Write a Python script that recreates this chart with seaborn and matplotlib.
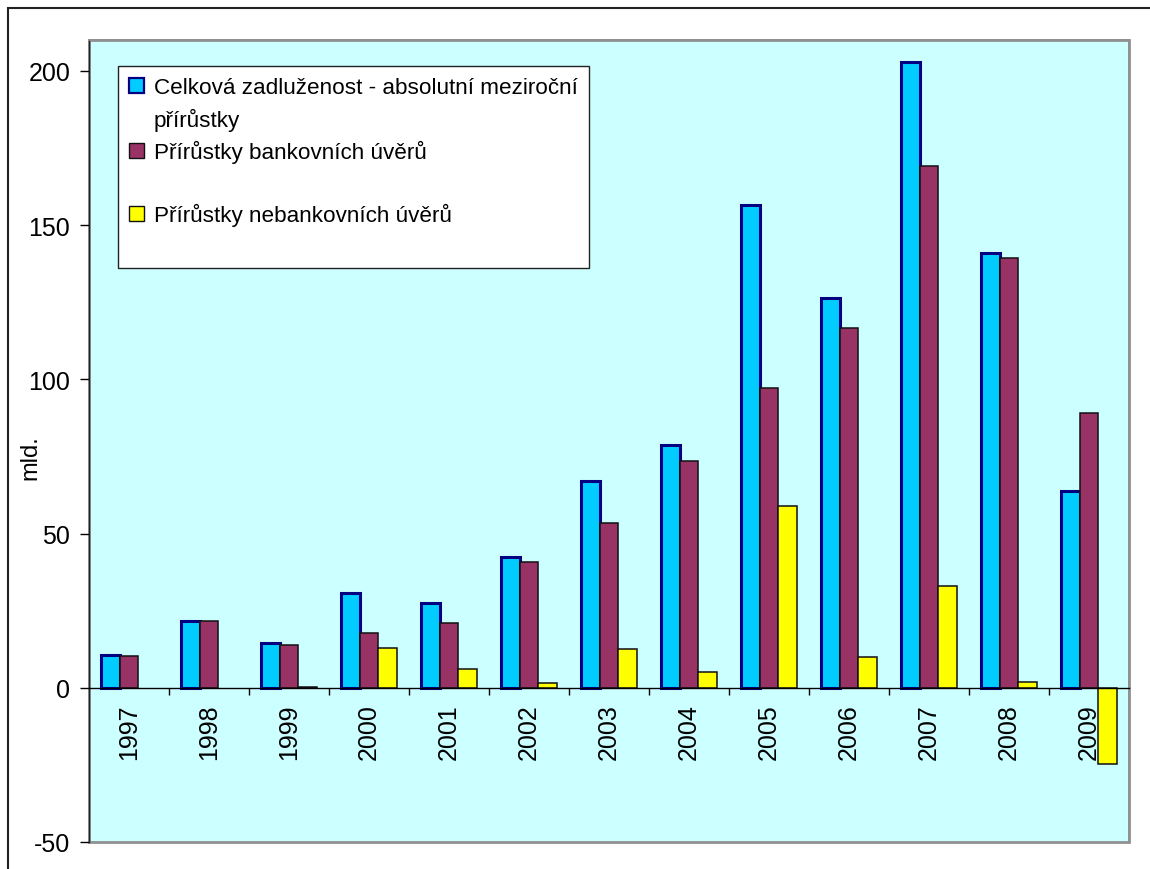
import numpy as np
import pandas as pd
import matplotlib
matplotlib.use("Agg")
import matplotlib.pyplot as plt
from matplotlib.patches import Patch, Rectangle
import seaborn as sns

# Year-on-year increments (bn CZK)
years = ["1997", "1998", "1999", "2000", "2001", "2002", "2003",
         "2004", "2005", "2006", "2007", "2008", "2009"]
total_debt = [10.5, 21.6, 14.6, 30.6, 27.4, 42.5, 67.0, 78.6, 156.6, 126.2, 202.9, 141.1, 63.8]
bank_loans = [10.4, 21.5, 14.0, 17.7, 20.9, 40.9, 53.4, 73.5, 97.1, 116.5, 169.3, 139.2, 89.0]
nonbank_loans = [0.0, 0.0, 0.4, 13.0, 6.1, 1.5, 12.5, 5.1, 58.9, 9.9, 32.9, 1.9, -24.8]

series_names = ["Celková zadluženost - absolutní meziroční\npřírůstky",
                "Přírůstky bankovních úvěrů",
                "Přírůstky nebankovních úvěrů"]
y_ticks = [-50, 0, 50, 100, 150, 200]

face_colors = ["#00CCFF", "#993366", "#FFFF00"]
edge_colors = ["#000080", "#111111", "#111111"]
edge_widths = [2.2, 1.1, 1.1]

df = pd.DataFrame({
    "rok": years * 3,
    "hodnota": total_debt + bank_loans + nonbank_loans,
    "řada": [series_names[0]] * len(years) + [series_names[1]] * len(years)
            + [series_names[2]] * len(years),
})

sns.set_theme(style="white")
plt.rcParams["font.family"] = ["Liberation Sans", "DejaVu Sans"]
plt.rcParams["text.color"] = "black"
plt.rcParams["axes.labelcolor"] = "black"
plt.rcParams["xtick.color"] = "black"
plt.rcParams["ytick.color"] = "black"

fig = plt.figure(figsize=(11.5, 8.7), dpi=100)
ax = fig.add_axes([89 / 1150, 1 - 843 / 870, 1040 / 1150, 802 / 870])
ax.set_facecolor("#CCFFFF")

sns.barplot(data=df, x="rok", y="hodnota", hue="řada", order=years,
            hue_order=series_names, palette=face_colors, saturation=1,
            width=0.71, legend=False, ax=ax)

for cont, ec, lw in zip(ax.containers, edge_colors, edge_widths):
    for bar in cont:
        bar.set_edgecolor(ec)
        bar.set_linewidth(lw if bar.get_height() != 0 else 0)
        bar.set_joinstyle("miter")

ax.set_xlim(-0.5, len(years) - 0.5)
ax.set_ylim(-50, 210)
ax.set_yticks(y_ticks)
ax.set_yticklabels([str(v) for v in y_ticks], fontsize=18)

# Category axis sits on the zero line, ticks between the categories
ax.spines["bottom"].set_position(("data", 0))
ax.spines["bottom"].set_color("black")
ax.spines["bottom"].set_linewidth(1.0)
ax.spines["left"].set_color("#222222")
ax.spines["left"].set_linewidth(1.0)
for side in ("top", "right"):
    ax.spines[side].set_color("#909090")
    ax.spines[side].set_linewidth(1.3)
ax.patch.set_edgecolor("#909090")
ax.patch.set_linewidth(2.0)

ax.set_xticks(np.arange(len(years)))
ax.set_xticklabels(years, rotation=90, fontsize=18, va="top")
ax.set_xticks(np.arange(0.5, len(years) - 1, 1), minor=True)
ax.tick_params(axis="x", which="major", length=0, pad=11, bottom=True)
ax.tick_params(axis="x", which="minor", length=5, width=1, color="black",
               direction="out", bottom=True)
ax.tick_params(axis="y", which="major", length=6.5, width=1, color="black",
               direction="out", left=True, pad=7)

ax.set_xlabel("")
ax.set_ylabel("mld.", fontsize=17)
ax.yaxis.set_label_coords(-0.046, 0.48)

# Legend: marker on the first line of each entry, blank rows for spacing
blank = Patch(facecolor="none", edgecolor="none")
handles = [Patch(facecolor=face_colors[0], edgecolor=edge_colors[0], linewidth=1.6),
           blank,
           Patch(facecolor=face_colors[1], edgecolor=edge_colors[1], linewidth=1.0),
           blank,
           Patch(facecolor=face_colors[2], edgecolor=edge_colors[2], linewidth=1.0),
           blank]
labels = ["Celková zadluženost - absolutní meziroční", "přírůstky",
          "Přírůstky bankovních úvěrů", " ",
          "Přírůstky nebankovních úvěrů", " "]
leg = ax.legend(handles, labels, loc="upper left",
                bbox_to_anchor=(118 / 1150, 1 - 67 / 870),
                bbox_transform=fig.transFigure, borderaxespad=0,
                fontsize=16.2, frameon=True, fancybox=False, shadow=False,
                framealpha=1, handlelength=0.64, handleheight=0.64,
                handletextpad=0.45, labelspacing=0.42, borderpad=0.5)
leg.get_frame().set_facecolor("white")
leg.get_frame().set_edgecolor("#222222")
leg.get_frame().set_linewidth(1.0)

# Outer chart frame
fig.patches.append(Rectangle((8 / 1150, -0.2), 1.3, 0.2 + 1 - 9 / 870,
                             transform=fig.transFigure, fill=False,
                             edgecolor="#222222", linewidth=1.5))

fig.savefig("out.png", dpi=100)
